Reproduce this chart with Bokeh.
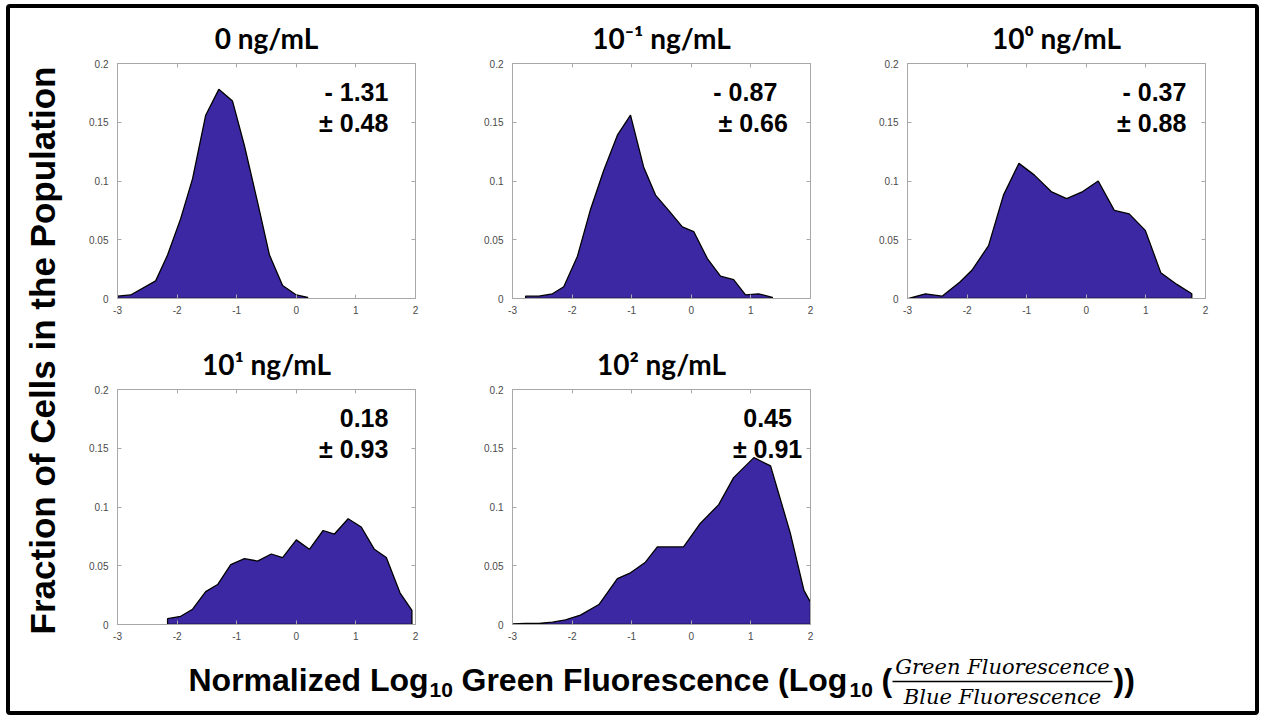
from math import pi
from bokeh.plotting import figure
from bokeh.models import Range1d, FixedTicker, LinearAxis, Label, CustomJSTickFormatter
from bokeh.layouts import row, column
from bokeh.embed import file_html
from bokeh.resources import INLINE

# ---------------- data ----------------
titles = ["0 ng/mL", "10\u207b\u00b9 ng/mL", "10\u2070 ng/mL", "10\u00b9 ng/mL", "10\u00b2 ng/mL"]
means = ["- 1.31", "- 0.87", "- 0.37", "0.18", "0.45"]
sds = ["\u00b1 0.48", "\u00b1 0.66", "\u00b1 0.88", "\u00b1 0.93", "\u00b1 0.91"]

p1_x = [-3.0, -2.78, -2.36, -2.16, -1.94, -1.74, -1.52, -1.30, -1.07, -0.87, -0.65, -0.45, -0.23, 0.0, 0.19]
p1_y = [0.002, 0.003, 0.015, 0.037, 0.068, 0.102, 0.156, 0.178, 0.168, 0.130, 0.082, 0.037, 0.011, 0.003, 0.001]

p2_x = [-2.78, -2.56, -2.33, -2.14, -1.91, -1.69, -1.47, -1.24, -1.02, -0.80, -0.60, -0.38, -0.15, 0.04, 0.27, 0.49, 0.71, 0.91, 1.13, 1.36]
p2_y = [0.002, 0.002, 0.004, 0.010, 0.036, 0.076, 0.109, 0.139, 0.156, 0.112, 0.088, 0.075, 0.061, 0.057, 0.034, 0.019, 0.016, 0.003, 0.004, 0.001]

p3_x = [-2.98, -2.70, -2.42, -2.12, -1.92, -1.64, -1.39, -1.13, -0.87, -0.59, -0.33, -0.06, 0.20, 0.47, 0.72, 0.99, 1.25, 1.52, 1.77]
p3_y = [0.000, 0.004, 0.002, 0.014, 0.024, 0.045, 0.088, 0.115, 0.105, 0.091, 0.085, 0.091, 0.100, 0.075, 0.072, 0.058, 0.022, 0.012, 0.004]

p4_x = [-2.16, -1.94, -1.74, -1.52, -1.32, -1.10, -0.87, -0.65, -0.42, -0.23, 0.0, 0.22, 0.45, 0.64, 0.87, 1.09, 1.31, 1.51, 1.74, 1.94]
p4_y = [0.005, 0.007, 0.013, 0.028, 0.034, 0.051, 0.056, 0.054, 0.060, 0.057, 0.072, 0.064, 0.080, 0.077, 0.090, 0.083, 0.064, 0.057, 0.027, 0.012]

p5_x = [-3.0, -2.78, -2.56, -2.33, -2.11, -1.86, -1.55, -1.24, -1.02, -0.77, -0.57, -0.13, 0.15, 0.46, 0.71, 1.05, 1.33, 1.66, 1.89, 2.0]
p5_y = [0.0005, 0.001, 0.001, 0.002, 0.004, 0.008, 0.017, 0.039, 0.044, 0.053, 0.066, 0.066, 0.086, 0.102, 0.125, 0.142, 0.135, 0.078, 0.029, 0.019]

x_ticks = [-3, -2, -1, 0, 1, 2]
y_ticks = [0, 0.05, 0.1, 0.15, 0.2]

y_label = "Fraction of Cells in the Population"
x_label_parts = ["Normalized Log", "10", "Green Fluorescence (Log", "10", "(", "))"]
frac_num = "Green Fluorescence"
frac_den = "Blue Fluorescence"

# ---------------- styles / layout ----------------
FILL = "#3c28a3"
AX = "#a8a8a8"
TICKTXT = "#4a4a4a"
SANS = "Liberation Sans"

# annotation placement per panel: (x line1, x line2, align)
ann_pos = [(1.545, 1.545, "right"), (0.37, 0.456, "left"), (1.68, 1.68, "right"),
           (1.545, 1.545, "right"), (1.28, 1.28, "center")]
ann_y = (0.1755, 0.149)

fmt = CustomJSTickFormatter(code="return tick.toString();")


def make_panel(xs, ys, i, width, height, top, right):
    p = figure(width=width, height=height, x_range=Range1d(-3, 2), y_range=Range1d(0, 0.2),
               output_backend="svg", toolbar_location=None, title=titles[i],
               min_border_left=42, min_border_right=right, min_border_top=top, min_border_bottom=28)
    p.xgrid.visible = False
    p.ygrid.visible = False
    p.outline_line_color = AX
    p.outline_line_width = 1
    p.title.align = "center"
    p.title.text_font = "Lato"
    p.title.text_font_style = "bold"
    p.title.text_font_size = "28px"
    p.title.text_color = "black"
    p.title.standoff = 18
    for ax, tk in ((p.xaxis[0], x_ticks), (p.yaxis[0], y_ticks)):
        ax.ticker = FixedTicker(ticks=tk)
        ax.formatter = fmt
        ax.axis_line_color = AX
        ax.major_tick_line_color = AX
        ax.major_tick_in = 4
        ax.major_tick_out = 0
        ax.minor_tick_line_color = None
        ax.major_label_text_font = SANS
        ax.major_label_text_font_size = "10px"
        ax.major_label_text_color = TICKTXT
    p.xaxis.major_label_standoff = 7
    p.yaxis.major_label_standoff = 9
    for loc, tk in (("above", x_ticks), ("right", y_ticks)):
        a = LinearAxis(ticker=FixedTicker(ticks=tk), formatter=fmt,
                       major_label_text_font_size="10px", major_label_text_color=None,
                       major_label_standoff=0,
                       major_tick_in=4, major_tick_out=0, minor_tick_line_color=None,
                       axis_line_color=AX, major_tick_line_color=AX)
        p.add_layout(a, loc)

    px = [xs[0]] + list(xs) + [xs[-1]]
    py = [0] + list(ys) + [0]
    p.patch(px, py, fill_color=FILL, line_color="black", line_width=1.3)

    x1, x2, al = ann_pos[i]
    for xx, yy, t in ((x1, ann_y[0], means[i]), (x2, ann_y[1], sds[i])):
        p.add_layout(Label(x=xx, y=yy, text=t, text_font=SANS, text_font_style="bold",
                           text_font_size="25px", text_align=al, text_baseline="middle",
                           text_color="black"))
    return p


p1 = make_panel(p1_x, p1_y, 0, 395, 318, 55, 55)
p2 = make_panel(p2_x, p2_y, 1, 395, 318, 55, 55)
p3 = make_panel(p3_x, p3_y, 2, 390, 318, 55, 50)
p4 = make_panel(p4_x, p4_y, 3, 395, 326, 63, 55)
p5 = make_panel(p5_x, p5_y, 4, 395, 326, 63, 55)


def blank(w, h):
    f = figure(width=w, height=h, x_range=Range1d(0, w), y_range=Range1d(0, h),
               output_backend="svg", toolbar_location=None, min_border=0, title=None,
               x_axis_location=None, y_axis_location=None)
    f.xgrid.visible = False
    f.ygrid.visible = False
    f.outline_line_color = None
    return f


OX, OY = 10, 8  # content origin on the page

# y label figure
ylab = blank(65, 644)
ylab.add_layout(Label(x=42 - OX, y=644 - (350 - OY), text=y_label, angle=pi / 2, text_font=SANS,
                      text_font_style="bold", text_font_size="35px", text_align="center",
                      text_baseline="middle", text_color="black"))

# x label figure
XH = 59
xlab = blank(1245, XH)
bottom_abs = OY + 644 + XH


def yy(abs_y):
    return bottom_abs - abs_y


def xx(abs_x):
    return abs_x - OX


big = dict(text_font=SANS, text_font_style="bold", text_font_size="32px", text_color="black",
           text_baseline="middle")
small = dict(text_font=SANS, text_font_style="bold", text_font_size="21px", text_color="black",
             text_baseline="middle")
pieces = [(188, 679, x_label_parts[0], big), (429, 689, x_label_parts[1], small),
          (461, 679, x_label_parts[2], big), (849, 689, x_label_parts[3], small),
          (881, 679, x_label_parts[4], big), (1113, 679, x_label_parts[5], big)]
for ax_, ay_, t, st in pieces:
    xlab.add_layout(Label(x=xx(ax_), y=yy(ay_), text=t, text_align="left", **st))
frac = dict(text_font="DejaVu Serif", text_font_style="italic", text_font_size="21px",
            text_color="black", text_align="center", text_baseline="middle")
xlab.add_layout(Label(x=xx(1002), y=yy(666), text=frac_num, **frac))
xlab.add_layout(Label(x=xx(1002), y=yy(696), text=frac_den, **frac))
xlab.segment(x0=[xx(892)], y0=[yy(681)], x1=[xx(1112)], y1=[yy(681)], line_color="black", line_width=1.5)

layout = column(
    row(ylab, column(row(p1, p2, p3), row(p4, p5))),
    xlab,
    styles={"border": "4px solid black", "border-radius": "4px", "margin-left": "6px", "margin-top": "4px"},
)

open("out.html", "w").write(file_html(layout, INLINE))
